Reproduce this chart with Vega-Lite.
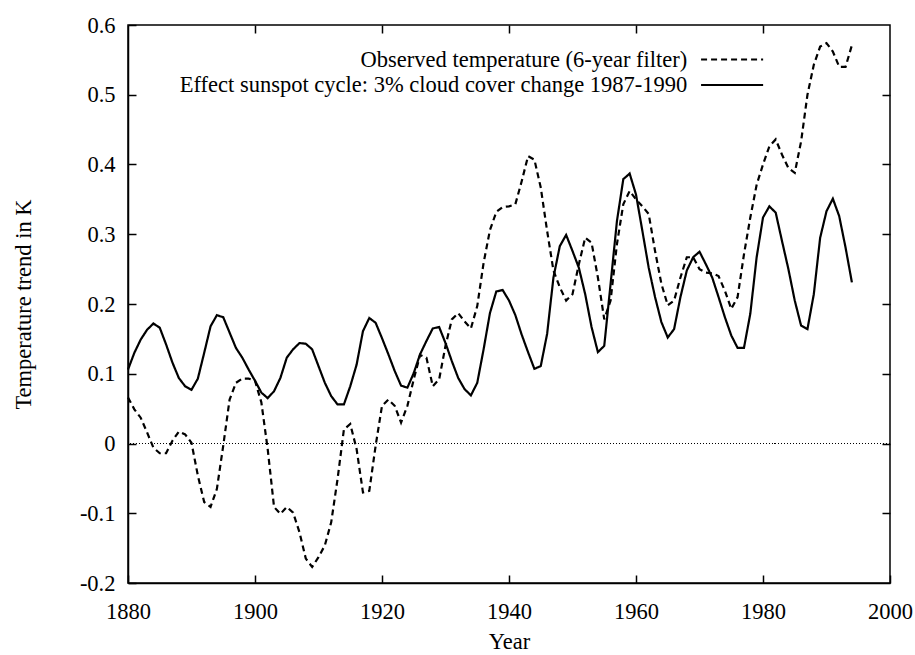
{
  "$schema": "https://vega.github.io/schema/vega-lite/v6.json",
  "width": 762,
  "height": 558,
  "autosize": {"type": "none"},
  "padding": {"left": 128, "top": 25, "right": 25, "bottom": 72},
  "background": "white",
  "config": {
    "view": {"stroke": "black", "strokeWidth": 1.5},
    "font": "Liberation Serif",
    "axis": {
      "domainColor": "black", "domainWidth": 1.5,
      "tickColor": "black", "tickWidth": 1.5, "tickSize": -8,
      "labelFont": "Liberation Serif", "labelFontSize": 22.5, "labelColor": "black", "labelFlush": false, "labelOverlap": false,
      "titleFont": "Liberation Serif", "titleFontSize": 22.5, "titleFontWeight": "normal", "titleColor": "black",
      "grid": false
    }
  },
  "data": {"values": [
    {"year":1880,"sun":0.106,"obs":0.066},{"year":1881,"sun":0.130,"obs":0.049},{"year":1882,"sun":0.149,"obs":0.037},{"year":1883,"sun":0.163,"obs":0.016},{"year":1884,"sun":0.172,"obs":-0.006},
    {"year":1885,"sun":0.166,"obs":-0.014},{"year":1886,"sun":0.142,"obs":-0.014},{"year":1887,"sun":0.116,"obs":0.004},{"year":1888,"sun":0.094,"obs":0.017},{"year":1889,"sun":0.082,"obs":0.013},
    {"year":1890,"sun":0.077,"obs":0.001},{"year":1891,"sun":0.093,"obs":-0.046},{"year":1892,"sun":0.130,"obs":-0.084},{"year":1893,"sun":0.168,"obs":-0.091},{"year":1894,"sun":0.184,"obs":-0.065},
    {"year":1895,"sun":0.181,"obs":-0.003},{"year":1896,"sun":0.159,"obs":0.063},{"year":1897,"sun":0.137,"obs":0.087},{"year":1898,"sun":0.123,"obs":0.093},{"year":1899,"sun":0.106,"obs":0.093},
    {"year":1900,"sun":0.090,"obs":0.090},{"year":1901,"sun":0.073,"obs":0.059},{"year":1902,"sun":0.065,"obs":-0.008},{"year":1903,"sun":0.075,"obs":-0.091},{"year":1904,"sun":0.094,"obs":-0.101},
    {"year":1905,"sun":0.123,"obs":-0.091},{"year":1906,"sun":0.135,"obs":-0.099},{"year":1907,"sun":0.144,"obs":-0.127},{"year":1908,"sun":0.143,"obs":-0.165},{"year":1909,"sun":0.135,"obs":-0.177},
    {"year":1910,"sun":0.111,"obs":-0.163},{"year":1911,"sun":0.087,"obs":-0.146},{"year":1912,"sun":0.068,"obs":-0.113},{"year":1913,"sun":0.056,"obs":-0.051},{"year":1914,"sun":0.056,"obs":0.020},
    {"year":1915,"sun":0.082,"obs":0.028},{"year":1916,"sun":0.113,"obs":-0.008},{"year":1917,"sun":0.161,"obs":-0.070},{"year":1918,"sun":0.180,"obs":-0.068},{"year":1919,"sun":0.173,"obs":-0.003},
    {"year":1920,"sun":0.151,"obs":0.054},{"year":1921,"sun":0.128,"obs":0.063},{"year":1922,"sun":0.104,"obs":0.054},{"year":1923,"sun":0.083,"obs":0.030},{"year":1924,"sun":0.080,"obs":0.054},
    {"year":1925,"sun":0.101,"obs":0.092},{"year":1926,"sun":0.128,"obs":0.127},{"year":1927,"sun":0.147,"obs":0.123},{"year":1928,"sun":0.165,"obs":0.082},{"year":1929,"sun":0.167,"obs":0.092},
    {"year":1930,"sun":0.144,"obs":0.140},{"year":1931,"sun":0.118,"obs":0.178},{"year":1932,"sun":0.094,"obs":0.187},{"year":1933,"sun":0.078,"obs":0.175},{"year":1934,"sun":0.069,"obs":0.165},
    {"year":1935,"sun":0.087,"obs":0.197},{"year":1936,"sun":0.135,"obs":0.259},{"year":1937,"sun":0.187,"obs":0.306},{"year":1938,"sun":0.218,"obs":0.332},{"year":1939,"sun":0.220,"obs":0.339},
    {"year":1940,"sun":0.205,"obs":0.340},{"year":1941,"sun":0.184,"obs":0.343},{"year":1942,"sun":0.156,"obs":0.376},{"year":1943,"sun":0.131,"obs":0.412},{"year":1944,"sun":0.107,"obs":0.407},
    {"year":1945,"sun":0.111,"obs":0.367},{"year":1946,"sun":0.157,"obs":0.305},{"year":1947,"sun":0.238,"obs":0.248},{"year":1948,"sun":0.283,"obs":0.224},{"year":1949,"sun":0.299,"obs":0.205},
    {"year":1950,"sun":0.276,"obs":0.214},{"year":1951,"sun":0.252,"obs":0.257},{"year":1952,"sun":0.214,"obs":0.295},{"year":1953,"sun":0.167,"obs":0.288},{"year":1954,"sun":0.131,"obs":0.238},
    {"year":1955,"sun":0.140,"obs":0.178},{"year":1956,"sun":0.229,"obs":0.205},{"year":1957,"sun":0.319,"obs":0.286},{"year":1958,"sun":0.379,"obs":0.343},{"year":1959,"sun":0.387,"obs":0.362},
    {"year":1960,"sun":0.357,"obs":0.350},{"year":1961,"sun":0.305,"obs":0.340},{"year":1962,"sun":0.252,"obs":0.329},{"year":1963,"sun":0.210,"obs":0.276},{"year":1964,"sun":0.174,"obs":0.229},
    {"year":1965,"sun":0.152,"obs":0.198},{"year":1966,"sun":0.164,"obs":0.205},{"year":1967,"sun":0.210,"obs":0.238},{"year":1968,"sun":0.248,"obs":0.267},{"year":1969,"sun":0.267,"obs":0.267},
    {"year":1970,"sun":0.275,"obs":0.250},{"year":1971,"sun":0.257,"obs":0.245},{"year":1972,"sun":0.238,"obs":0.244},{"year":1973,"sun":0.210,"obs":0.240},{"year":1974,"sun":0.181,"obs":0.219},
    {"year":1975,"sun":0.155,"obs":0.193},{"year":1976,"sun":0.137,"obs":0.210},{"year":1977,"sun":0.137,"obs":0.271},{"year":1978,"sun":0.186,"obs":0.324},{"year":1979,"sun":0.267,"obs":0.371},
    {"year":1980,"sun":0.324,"obs":0.400},{"year":1981,"sun":0.340,"obs":0.426},{"year":1982,"sun":0.331,"obs":0.436},{"year":1983,"sun":0.290,"obs":0.414},{"year":1984,"sun":0.250,"obs":0.395},
    {"year":1985,"sun":0.205,"obs":0.388},{"year":1986,"sun":0.169,"obs":0.433},{"year":1987,"sun":0.164,"obs":0.500},{"year":1988,"sun":0.214,"obs":0.543},{"year":1989,"sun":0.295,"obs":0.569},
    {"year":1990,"sun":0.333,"obs":0.574},{"year":1991,"sun":0.351,"obs":0.562},{"year":1992,"sun":0.326,"obs":0.540},{"year":1993,"sun":0.281,"obs":0.540},{"year":1994,"sun":0.231,"obs":0.571}
  ]},
  "transform": [{"fold": ["obs", "sun"], "as": ["series", "value"]}],
  "layer": [
    {
      "mark": {"type": "rule", "color": "black", "strokeWidth": 1, "strokeDash": [1, 2]},
      "encoding": {"y": {"datum": 0, "type": "quantitative", "axis": null}}
    },
    {
      "mark": {"type": "line", "color": "black", "strokeWidth": 2.2},
      "encoding": {
        "x": {"field": "year", "type": "quantitative", "scale": {"domain": [1880, 2000], "nice": false, "zero": false},
              "axis": {"orient": "bottom", "values": [1880,1900,1920,1940,1960,1980,2000], "format": "d", "labelPadding": 25, "title": "Year", "titlePadding": 8}},
        "y": {"field": "value", "type": "quantitative", "scale": {"domain": [-0.2, 0.6], "nice": false, "zero": false},
              "axis": {"orient": "left", "values": [-0.2,-0.1,0,0.1,0.2,0.3,0.4,0.5,0.6], "labelExpr": "toString(round(datum.value*10)/10)", "labelPadding": 21, "title": "Temperature trend in K", "titlePadding": 44}},
        "strokeDash": {"field": "series", "type": "nominal",
          "scale": {"domain": ["obs", "sun"], "range": [[6, 4], [1, 0]]},
          "legend": {
            "orient": "none", "legendX": 592.6, "legendY": 23, "title": null, "padding": 0,
            "symbolType": "M-3,0H3", "symbolSize": 428, "symbolStrokeWidth": 2.2, "symbolStrokeColor": "black",
            "labelAlign": "right", "labelOffset": -56.3, "labelFont": "Liberation Serif", "labelFontSize": 22.5, "labelColor": "black", "labelLimit": 2000,
            "rowPadding": 2.5,
            "labelExpr": "datum.label == 'obs' ? 'Observed temperature (6-year filter)' : 'Effect sunspot cycle: 3% cloud cover change 1987-1990'"
          }},
        "detail": {"field": "series"}
      }
    },
    {
      "mark": {"type": "line", "opacity": 0},
      "encoding": {
        "x": {"field": "year", "type": "quantitative", "axis": {"orient": "top", "values": [1900,1920,1940,1960,1980], "labels": false, "title": null, "domain": false}},
        "y": {"field": "value", "type": "quantitative", "axis": {"orient": "right", "values": [-0.1,0,0.1,0.2,0.3,0.4,0.5], "labels": false, "title": null, "domain": false}},
        "detail": {"field": "series"}
      }
    }
  ]
}
